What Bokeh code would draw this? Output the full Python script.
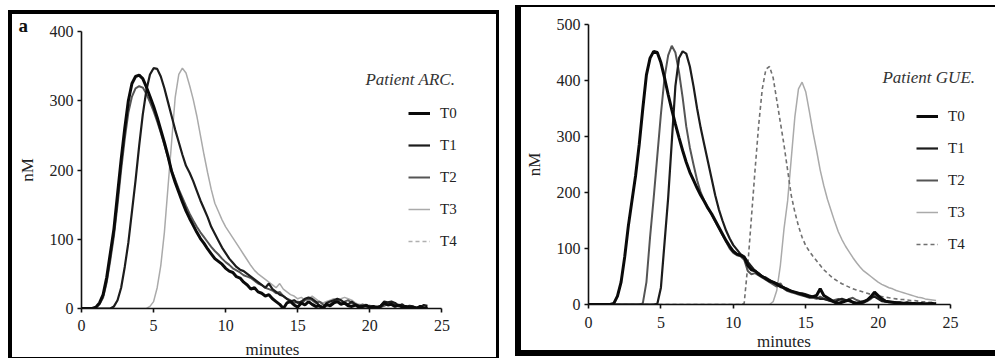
import numpy as np
from bokeh.plotting import figure
from bokeh.models import Legend, LegendItem, Label, SingleIntervalTicker, Range1d, ColumnDataSource
from bokeh.layouts import row
from bokeh.embed import file_html
from bokeh.resources import INLINE

# sampling times (minutes)
minutes = [0, 0.25, 0.5, 0.75, 1, 1.25, 1.5, 1.75, 2, 2.25, 2.5, 2.75, 3, 3.25, 3.5, 3.75,
           4, 4.25, 4.5, 4.75, 5, 5.25, 5.5, 5.75, 6, 6.25, 6.5, 6.75, 7, 7.25, 7.5, 7.75,
           8, 8.25, 8.5, 8.75, 9, 9.25, 9.5, 9.75, 10, 10.25, 10.5, 10.75, 11, 11.25, 11.5, 11.75,
           12, 12.25, 12.5, 12.75, 13, 13.25, 13.5, 13.75, 14, 14.25, 14.5, 14.75, 15, 15.25, 15.5, 15.75,
           16, 16.25, 16.5, 16.75, 17, 17.25, 17.5, 17.75, 18, 18.25, 18.5, 18.75, 19, 19.25, 19.5, 19.75,
           20, 20.25, 20.5, 20.75, 21, 21.25, 21.5, 21.75, 22, 22.25, 22.5, 22.75, 23, 23.25, 23.5, 23.75, 24]

# Patient ARC. (nM)
arc_t0 = [0, 0, 0, 0, 2, 8, 20, 45,
          80, 115, 165, 215, 260, 300, 325, 335,
          337, 332, 320, 306, 292, 276, 258, 240,
          220, 198, 182, 168, 154, 141, 130, 120,
          110, 101, 94, 86, 79, 72, 68, 64,
          58, 54, 52, 46, 44, 38, 34, 28,
          30, 24, 22, 18, 20, 14, 10, 6,
          0, 8, 10, 5, 2, 8, 5, 10,
          6, 3, 4, 0, 6, 4, 8, 10,
          6, 8, 4, 3, 5, 2, 3, 4,
          2, 3, 1, 3, 8, 5, 6, 3,
          5, 2, 3, 1, 2, 0, 3, 0,
          2]
arc_t1 = [0, 0, 0, 0, 0, 0, 0, 0,
          0, 3, 12, 30, 60, 95, 140, 185,
          235, 280, 315, 338, 347, 346, 335, 318,
          298, 278, 258, 240, 222, 206, 196, 184,
          170, 156, 144, 132, 118, 108, 98, 88,
          80, 72, 66, 60, 56, 54, 50, 46,
          42, 38, 34, 30, 36, 28, 24, 20,
          18, 14, 10, 12, 8, 10, 14, 16,
          14, 10, 4, 2, 8, 10, 12, 14,
          12, 8, 6, 10, 6, 4, 3, 5,
          2, 3, 1, 4, 10, 9, 10, 8,
          4, 6, 2, 4, 3, 1, 2, 5,
          4]
arc_t2 = [0, 0, 0, 0, 1, 6, 16, 38,
          70, 105, 150, 200, 245, 283, 306, 318,
          321, 319, 310, 298, 285, 270, 254, 236,
          218, 200, 186, 172, 160, 148, 137, 127,
          118, 110, 103, 96, 89, 83, 78, 72,
          67, 63, 58, 55, 52, 48, 46, 44,
          40, 36, 34, 30, 28, 26, 22, 24,
          18, 14, 12, 8, 10, 6, 12, 14,
          12, 8, 10, 6, 4, 6, 10, 12,
          8, 10, 12, 8, 6, 4, 6, 3,
          4, 2, 3, 2, 4, 6, 8, 5,
          3, 4, 2, 1, 2, 1, 3, 2,
          1]
arc_t3 = [0, 0, 0, 0, 0, 0, 0, 0,
          0, 0, 0, 0, 0, 0, 0, 0,
          0, 0, 0, 3, 10, 30, 62, 110,
          175, 240, 305, 338, 347, 340, 322, 302,
          278, 250, 222, 196, 172, 152, 140, 128,
          118, 110, 102, 94, 86, 78, 70, 62,
          55, 50, 46, 42, 38, 34, 30, 36,
          28, 24, 20, 18, 14, 16, 12, 14,
          18, 14, 10, 8, 10, 12, 14, 12,
          14, 16, 14, 12, 8, 6, 5, 6,
          4, 3, 4, 3, 6, 8, 10, 6,
          4, 3, 2, 3, 2, 1, 2, 1,
          1]
arc_t4 = []  # T4 appears in the legend only (no trace for this patient)

# Patient GUE. (nM)
gue_t0 = [0, 0, 0, 0, 0, 0, 0, 2,
          15, 40, 85, 140, 185, 230, 285, 350,
          410, 440, 452, 450, 432, 405, 375, 348,
          322, 298, 275, 254, 236, 222, 208, 195,
          184, 172, 162, 150, 138, 126, 114, 104,
          95, 90, 88, 84, 70, 62, 60, 54,
          50, 46, 42, 40, 36, 32, 30, 26,
          24, 22, 20, 18, 16, 14, 14, 16,
          28, 16, 12, 8, 4, 2, 4, 6,
          8, 4, 2, 3, 4, 8, 14, 22,
          16, 10, 6, 5, 4, 3, 3, 2,
          3, 2, 2, 1, 2, 1, 1, 2,
          1]
gue_t1 = [0, 0, 0, 0, 0, 0, 0, 0,
          0, 0, 0, 0, 0, 0, 0, 0,
          0, 0, 0, 1, 30, 110, 190, 290,
          390, 440, 452, 448, 425, 390, 350, 315,
          285, 255, 225, 195, 170, 150, 132, 118,
          106, 98, 90, 86, 76, 68, 60, 56,
          50, 48, 44, 40, 38, 34, 30, 28,
          24, 22, 20, 20, 18, 16, 14, 12,
          10, 10, 8, 6, 4, 8, 10, 8,
          6, 4, 3, 4, 6, 8, 12, 14,
          10, 6, 5, 4, 4, 3, 3, 2,
          2, 2, 1, 2, 1, 1, 2, 1,
          1]
gue_t2 = [0, 0, 0, 0, 0, 0, 0, 0,
          0, 0, 0, 0, 0, 0, 0, 2,
          40, 120, 190, 265, 340, 405, 445, 462,
          450, 415, 370, 318, 280, 250, 222, 200,
          185, 172, 160, 148, 136, 124, 112, 100,
          92, 88, 86, 80, 60, 54, 56, 52,
          48, 44, 40, 36, 32, 38, 28, 24,
          22, 20, 18, 16, 14, 12, 12, 10,
          14, 10, 8, 6, 8, 10, 8, 6,
          10, 12, 8, 6, 5, 6, 10, 18,
          12, 8, 6, 5, 4, 4, 3, 3,
          2, 3, 2, 2, 1, 2, 1, 1,
          1]
gue_t3 = [0, 0, 0, 0, 0, 0, 0, 0,
          0, 0, 0, 0, 0, 0, 0, 0,
          0, 0, 0, 0, 0, 0, 0, 0,
          0, 0, 0, 0, 0, 0, 0, 0,
          0, 0, 0, 0, 0, 0, 0, 0,
          0, 0, 0, 0, 0, 0, 0, 0,
          0, 0, 0, 5, 25, 70, 135, 185,
          260, 335, 385, 397, 380, 345, 308, 275,
          240, 212, 188, 168, 148, 130, 116, 104,
          94, 84, 75, 67, 60, 55, 50, 45,
          40, 36, 33, 30, 28, 25, 23, 21,
          19, 17, 15, 13, 12, 10, 9, 8,
          7]
gue_t4 = [0, 0, 0, 0, 0, 0, 0, 0,
          0, 0, 0, 0, 0, 0, 0, 0,
          0, 0, 0, 0, 0, 0, 0, 0,
          0, 0, 0, 0, 0, 0, 0, 0,
          0, 0, 0, 0, 0, 0, 0, 0,
          0, 0, 0, 2, 70, 155, 240, 320,
          385, 420, 425, 405, 365, 325, 285, 240,
          195, 165, 140, 120, 105, 95, 86, 78,
          70, 62, 56, 50, 45, 41, 37, 34,
          31, 28, 26, 24, 22, 20, 18, 17,
          15, 14, 13, 12, 11, 10, 9, 9,
          8, 7, 7, 6, 5, 5, 4, 4,
          3]

series_labels = ["T0", "T1", "T2", "T3", "T4"]
x_axis_end = 25
SERIF = "Liberation Serif"

line_colors = ["#0a0a0a", "#1c1c1c", "#555555", "#aaaaaa", "#8a8a8a"]
line_widths = [3, 2.2, 2, 1.5, 1.6]
line_dashes = ["solid", "solid", "solid", "solid", "4 3"]


def make_panel(series, y_max, patient, canvas_w, canvas_h, mb, x_end, legend_loc,
               patient_xy, styles, margin, stand, t4_color="#8a8a8a"):
    p = figure(width=canvas_w, height=canvas_h, output_backend="svg", toolbar_location=None,
               x_range=Range1d(0, x_end), y_range=Range1d(0, y_max),
               min_border_left=mb[0], min_border_top=mb[1], min_border_right=mb[2],
               min_border_bottom=mb[3])
    p.grid.visible = False
    p.outline_line_color = None
    p.background_fill_color = "white"
    p.border_fill_color = "white"
    p.styles = styles
    p.margin = margin

    for ax in (p.xaxis[0], p.yaxis[0]):
        ax.axis_line_width = 1.6
        ax.axis_line_color = "#111111"
        ax.major_tick_line_width = 1.6
        ax.major_tick_line_color = "#111111"
        ax.major_tick_in = 0
        ax.major_tick_out = 4
        ax.minor_tick_line_color = None
        ax.major_label_text_font = SERIF
        ax.major_label_text_font_size = "16px"
        ax.major_label_text_color = "#222222"
        ax.axis_label_text_font = SERIF
        ax.axis_label_text_font_size = "17px"
        ax.axis_label_text_font_style = "normal"
        ax.axis_label_text_color = "#222222"
    p.xaxis[0].ticker = SingleIntervalTicker(interval=5, num_minor_ticks=0)
    p.yaxis[0].ticker = SingleIntervalTicker(interval=100, num_minor_ticks=0)
    p.xaxis[0].bounds = (0, x_axis_end)
    p.xaxis[0].axis_label = "minutes"
    p.yaxis[0].axis_label = "nM"
    p.xaxis[0].major_label_standoff = stand[0]
    p.xaxis[0].axis_label_standoff = stand[1]
    p.yaxis[0].major_label_standoff = 4
    p.yaxis[0].axis_label_standoff = 10

    renderers = {}
    colors = list(line_colors)
    colors[4] = t4_color
    for i in [3, 4, 2, 1, 0]:
        vals = series[i]
        if len(vals) == 0:
            # placeholder row (not drawn) so the legend still shows the T4 key
            src = ColumnDataSource(dict(x=np.array([np.nan]), y=np.array([np.nan])))
        else:
            src = ColumnDataSource(dict(x=minutes[:len(vals)], y=vals))
        renderers[i] = p.line("x", "y", source=src, line_color=colors[i],
                              line_width=line_widths[i], line_dash=line_dashes[i])

    legend = Legend(items=[LegendItem(label=series_labels[i], renderers=[renderers[i]]) for i in range(5)],
                    location=legend_loc, orientation="vertical",
                    label_text_font=SERIF, label_text_font_size="15px", label_text_color="#222222",
                    glyph_width=22, glyph_height=20, label_height=20, spacing=12, padding=5,
                    margin=0, label_standoff=10, border_line_color=None, background_fill_alpha=0)
    p.add_layout(legend)

    p.add_layout(Label(x=patient_xy[0], y=patient_xy[1], text=patient, text_font=SERIF,
                       text_font_style="italic", text_font_size="17px", text_color="#333333",
                       text_align="left", text_baseline="middle"))
    return p


# left panel: border widths 4/4/3/1 -> Bokeh sizes the canvas by the border box
left = make_panel([arc_t0, arc_t1, arc_t2, arc_t3, arc_t4], 400, "Patient ARC.",
                  484, 343, (69, 16, 40, 52), 26.5, (327, 57), (19.7, 330),
                  {"box-sizing": "content-box",
                   "border-left": "4px solid black", "border-top": "4px solid black",
                   "border-right": "3px solid black", "border-bottom": "1px solid black"},
                  (10, 0, 0, 8), (7, 6), t4_color="#b0b0b0")
left.title.text = "a"
left.title.align = "left"
left.title.offset = -63
left.title.standoff = -8
left.title.text_font = SERIF
left.title.text_font_style = "bold"
left.title.text_font_size = "19px"
left.title.text_color = "#111111"

right = make_panel([gue_t0, gue_t1, gue_t2, gue_t3, gue_t4], 500, "Patient GUE.",
                   474, 343, (67, 17, 22, 54), 27, (328, 50), (20.3, 405),
                   {"box-sizing": "content-box",
                    "border-left": "6px solid black", "border-top": "2px solid black",
                    "border-bottom": "6px solid black"},
                   (5, 0, 0, 16), (8, 1), t4_color="#707070")

layout = row(left, right)
open("out.html", "w").write(file_html(layout, INLINE))
